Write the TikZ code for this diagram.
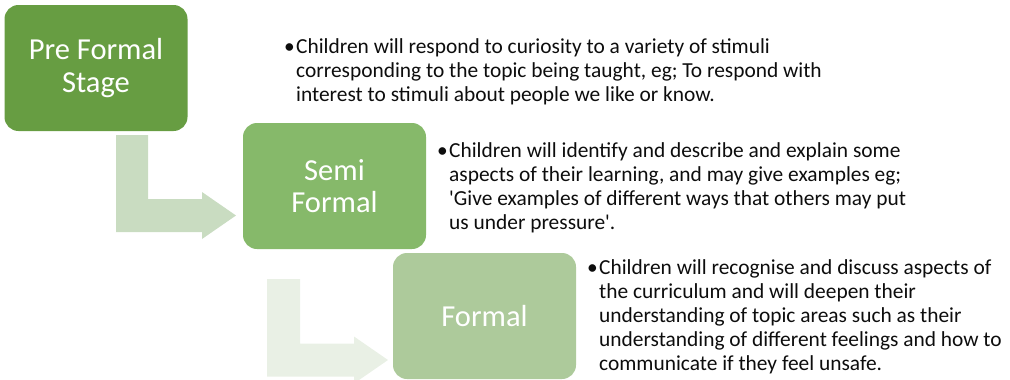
\documentclass[tikz,border=0pt]{standalone}
\usepackage{fontspec}
\setmainfont{Carlito}
\definecolor{stageone}{HTML}{679D42}
\definecolor{stagetwo}{HTML}{86B96A}
\definecolor{stagethree}{HTML}{ADCA9B}
\definecolor{bendone}{HTML}{C9DCC1}
\definecolor{bendtwo}{HTML}{E9F0E5}
\definecolor{bodytext}{HTML}{0D0D0D}
\begin{document}
\begin{tikzpicture}[x=1pt,y=-1pt,
  stagebox/.style={rectangle, rounded corners=14pt, minimum width=183pt,
    minimum height=126pt, inner sep=0pt, text=white, align=center,
    font=\fontsize{30.5}{34.5}\selectfont},
  desc/.style={anchor=base west, align=left, inner sep=0pt, text=bodytext,
    font=\fontsize{21.4}{24}\selectfont}]
\useasboundingbox (0,0) rectangle (1010,380);

% bent arrows between the stages
\fill[bendone] (116,135) -- (148,135) -- (148,199) -- (202,199) -- (202,192)
  -- (236,215.5) -- (202,239) -- (202,232) -- (116,232) -- cycle;
\fill[bendtwo] (267,279) -- (300,279) -- (300,343.5) -- (354,343.5) -- (354,336.5)
  -- (388,360) -- (354,383.5) -- (354,376.5) -- (267,376.5) -- cycle;

% stage boxes
\node[stagebox, fill=stageone] (pre) at (96,68) {\raisebox{-2pt}{Pre Formal}\\Stage};
\node[stagebox, fill=stagetwo] (semi) at (334.5,186) {\raisebox{-2pt}{Semi}\\Formal};
\node[stagebox, fill=stagethree] (formal) at (484.5,316) {Formal};

% bullet descriptions (anchored at the baseline of the last line)
\node[desc] (predesc) at (296,101)
  {\llap{•\hspace{1.5pt}}Children will respond to curiosity to a variety of stimuli\\
   corresponding to the topic being taught, eg; To respond with\\
   interest to stimuli about people we like or know.};
\node[desc] (semidesc) at (449,229)
  {\llap{•\hspace{1.5pt}}Children will identify and describe and explain some\\
   aspects of their learning, and may give examples eg;\\
   \textquotesingle Give examples of different ways that others may put\\
   us under pressure\textquotesingle.};
\node[desc] (formaldesc) at (599,370)
  {\llap{•\hspace{1.5pt}}Children will recognise and discuss aspects of\\
   the curriculum and will deepen their\\
   understanding of topic areas such as their\\
   understanding of different feelings and how to\\
   communicate if they feel unsafe.};
\end{tikzpicture}
\end{document}
